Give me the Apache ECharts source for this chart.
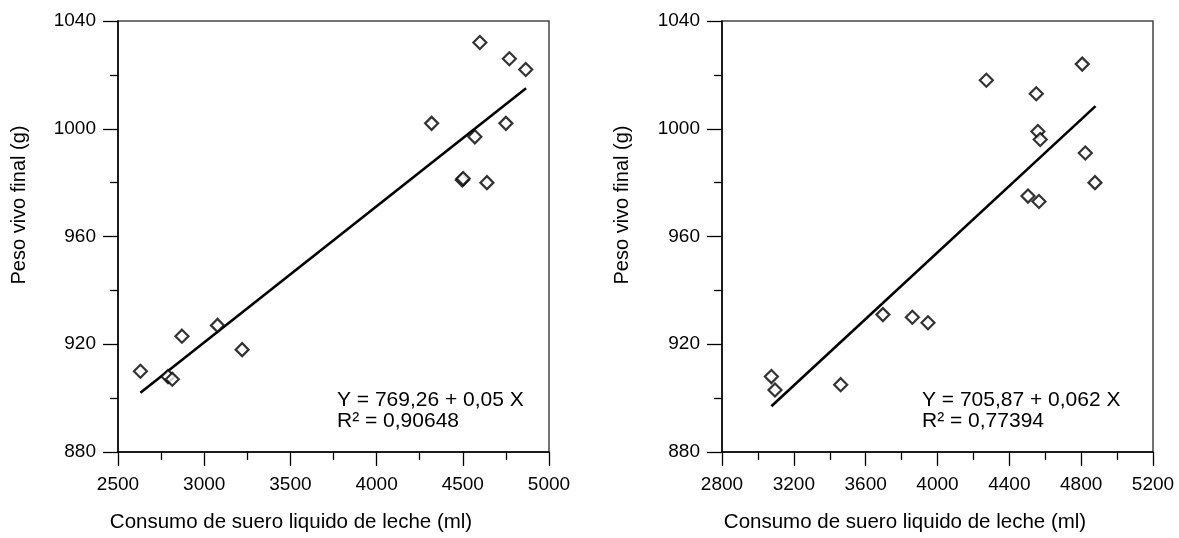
<!DOCTYPE html>
<html>
<head>
<meta charset="utf-8">
<script src="https://cdn.jsdelivr.net/npm/echarts@6/dist/echarts.min.js"></script>
<style>
html,body{margin:0;padding:0;background:#fff;}
#chart{width:1179px;height:538px;}
</style>
</head>
<body>
<div id="chart"></div>
<script>
// ---- Data ----
const leftPoints = [
  [2630, 910], [2790, 908], [2815, 907], [2871, 923], [3077, 927],
  [3220, 918], [4319, 1002], [4599, 1032], [4770, 1026], [4865, 1022],
  [4570, 997], [4750, 1002], [4497, 981], [4502, 981.5], [4640, 980]
];
const leftFit = [[2630, 902], [4867, 1015]];
const leftEq = ['Y = 769,26 + 0,05 X', 'R² = 0,90648'];

const rightPoints = [
  [3075, 908], [3095, 903], [3461, 905], [3696, 931], [3860, 930],
  [3947, 928], [4272, 1018], [4550, 1013], [4559, 999], [4572, 996],
  [4504, 975], [4565, 973], [4806, 1024], [4823, 991], [4877, 980]
];
const rightFit = [[3075, 897], [4880, 1008.4]];
const rightEq = ['Y = 705,87 + 0,062 X', 'R² = 0,77394'];

const yMin = 880, yMax = 1040, yStep = 40;
const leftX = {min: 2500, max: 5000, step: 500};
const rightX = {min: 2800, max: 5200, step: 400};
const xTitle = 'Consumo de suero liquido de leche (ml)';
const yTitle = 'Peso vivo final (g)';

// ---- Chart ----
const FONT = 'Arial, "Liberation Sans", sans-serif';
const chart = echarts.init(document.getElementById('chart'), null, {renderer: 'canvas'});
const plain = v => String(v);

function xAxis(idx, r) {
  return {
    type: 'value', gridIndex: idx, min: r.min, max: r.max, interval: r.step,
    axisLine: {show: true, lineStyle: {color: '#000', width: 1.5}},
    axisTick: {show: true, length: 14, lineStyle: {color: '#000', width: 1.3}},
    minorTick: {show: true, splitNumber: 2, length: 8, lineStyle: {color: '#000', width: 1.3}},
    splitLine: {show: false},
    axisLabel: {margin: 23, fontSize: 19, color: '#000', fontFamily: FONT, formatter: plain}
  };
}
function yAxis(idx) {
  return {
    type: 'value', gridIndex: idx, min: yMin, max: yMax, interval: yStep,
    axisLine: {show: true, lineStyle: {color: '#000', width: 1.5}},
    axisTick: {show: true, length: 15, lineStyle: {color: '#000', width: 1.3}},
    minorTick: {show: true, splitNumber: 2, length: 8, lineStyle: {color: '#000', width: 1.3}},
    splitLine: {show: false},
    axisLabel: {margin: 22, fontSize: 19, color: '#000', fontFamily: FONT, formatter: plain}
  };
}
function scatter(idx, pts) {
  return {
    type: 'scatter', xAxisIndex: idx, yAxisIndex: idx, data: pts,
    symbol: 'diamond', symbolSize: 13,
    itemStyle: {color: '#fff', borderColor: '#000', borderWidth: 2.2},
    z: 3
  };
}
function fit(idx, pts) {
  return {
    type: 'line', xAxisIndex: idx, yAxisIndex: idx, data: pts,
    showSymbol: false, symbol: 'none',
    lineStyle: {color: '#000', width: 2.6}, z: 2
  };
}
function txt(x, y, s, size, rot) {
  return {
    type: 'text', x: x, y: y, rotation: rot || 0,
    style: {text: s, font: size + 'px ' + FONT, fill: '#000', textAlign: 'center', textVerticalAlign: 'middle'}
  };
}
function eq(x, y, s) {
  return {type: 'text', x: x, y: y, style: {text: s, font: '21px ' + FONT, fill: '#000', textAlign: 'left', textVerticalAlign: 'middle'}};
}

chart.setOption({
  animation: false,
  backgroundColor: '#fff',
  grid: [
    {left: 118, top: 21, width: 431, height: 431, show: true, borderColor: '#444', borderWidth: 1.5, backgroundColor: 'transparent'},
    {left: 722, top: 21, width: 431, height: 431, show: true, borderColor: '#444', borderWidth: 1.5, backgroundColor: 'transparent'}
  ],
  xAxis: [xAxis(0, leftX), xAxis(1, rightX)],
  yAxis: [yAxis(0), yAxis(1)],
  series: [fit(0, leftFit), scatter(0, leftPoints), fit(1, rightFit), scatter(1, rightPoints)],
  graphic: [
    txt(291, 522, xTitle, 20.5),
    txt(905, 522, xTitle, 20.5),
    txt(19, 205, yTitle, 20, Math.PI / 2),
    txt(622, 205, yTitle, 20, Math.PI / 2),
    eq(337, 400, leftEq[0]),
    eq(337, 421, leftEq[1]),
    eq(922, 400, rightEq[0]),
    eq(922, 421, rightEq[1])
  ]
});
</script>
</body>
</html>
